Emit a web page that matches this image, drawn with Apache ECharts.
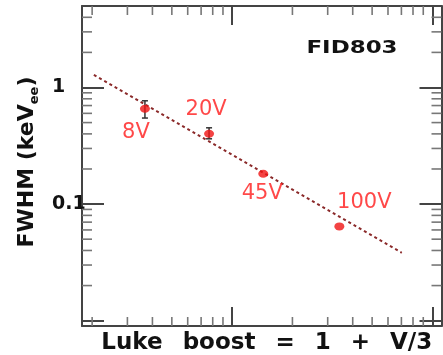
<!DOCTYPE html>
<html><head><meta charset="utf-8">
<script src="https://cdn.jsdelivr.net/npm/echarts@6/dist/echarts.min.js"></script>
<style>html,body{margin:0;padding:0;background:#fff}#c{width:443px;height:355px}</style>
</head><body><div id="c"></div>
<script>
// ---- data ----
const pointLabels = ['8V', '20V', '45V', '100V'];
const boost = [3.67, 7.67, 14.3, 34.3];
const fwhm = [0.657, 0.401, 0.182, 0.0643];
const errLow = [0.547, 0.363, null, null];
const errHigh = [0.769, 0.451, null, null];
const fitX = [2.04, 70.3];
const fitY = [1.285, 0.0382];
const xRange = [1.78, 111];
const yRange = [0.009, 5];
const xMinorTicks = [2, 3, 4, 5, 6, 7, 8, 9, 20, 30, 40, 50, 60, 70, 80, 90];
const yMinorTicks = [0.02, 0.03, 0.04, 0.05, 0.06, 0.07, 0.08, 0.09, 0.2, 0.3, 0.4, 0.5, 0.6, 0.7, 0.8, 0.9, 2, 3, 4];
const yTickLabels = ['0.1', '1'];
const annotation = 'FID803';

// ---- styles ----
const labelOffsets = [[-9, 24], [-3, -24], [-1, 20], [25, -24]];
const FONT = 'DejaVu Sans';
const axisCol = '#444';

function minorTicks(vals, dir) {
  return {
    type: 'custom', xAxisIndex: 0, yAxisIndex: 0, silent: true, z: 1, clip: false,
    data: vals.map(v => dir === 'x' ? [v, 1] : [10, v]),
    encode: {x: 0, y: 1},
    renderItem(params, api) {
      const cs = params.coordSys;
      const p = api.coord([api.value(0), api.value(1)]);
      const st = {stroke: '#777', lineWidth: 1.6};
      if (dir === 'x') {
        const x = p[0], b = cs.y + cs.height, t = cs.y, L = 9;
        return {type: 'group', children: [
          {type: 'line', shape: {x1: x, y1: b, x2: x, y2: b - L}, style: st},
          {type: 'line', shape: {x1: x, y1: t, x2: x, y2: t + L}, style: st}]};
      }
      const y = p[1], l = cs.x, r = cs.x + cs.width, L = 10;
      return {type: 'group', children: [
        {type: 'line', shape: {x1: l, y1: y, x2: l + L, y2: y}, style: st},
        {type: 'line', shape: {x1: r, y1: y, x2: r - L, y2: y}, style: st}]};
    }
  };
}

const errData = boost.map((x, i) => [x, errLow[i], errHigh[i]]).filter(d => d[1] != null);

const chart = echarts.init(document.getElementById('c'), null, {renderer: 'canvas'});
chart.setOption({
  backgroundColor: '#fff',
  animation: false,
  grid: {left: 82, right: 1.5, top: 6, bottom: 29, containLabel: false, outerBoundsMode: 'none'},
  xAxis: [{
    type: 'log', min: xRange[0], max: xRange[1], position: 'bottom',
    axisLine: {lineStyle: {color: axisCol, width: 2}},
    axisTick: {inside: true, length: 19, lineStyle: {color: axisCol, width: 2}},
    axisLabel: {show: false}, splitLine: {show: false},
    name: '{w|Luke} {w|boost} {w|=} {w|1} {w|+} {w|V/3}',
    nameLocation: 'middle', nameGap: 6,
    nameTextStyle: {fontFamily: FONT, fontWeight: 'bold', fontSize: 23, color: '#111', padding: [0, 0, 0, 10],
      rich: {w: {fontFamily: FONT, fontWeight: 'bold', fontSize: 23, color: '#111', padding: [0, 6]}}}
  }, {
    type: 'log', min: xRange[0], max: xRange[1], position: 'top',
    axisLine: {lineStyle: {color: axisCol, width: 2}},
    axisTick: {inside: true, length: 19, lineStyle: {color: axisCol, width: 2}},
    axisLabel: {show: false}, splitLine: {show: false}
  }],
  yAxis: [{
    type: 'log', min: yRange[0], max: yRange[1], position: 'left',
    axisLine: {lineStyle: {color: axisCol, width: 2}},
    axisTick: {inside: true, length: 22, lineStyle: {color: axisCol, width: 2}},
    axisLabel: {
      margin: 30, align: 'left', fontFamily: FONT, fontWeight: 'bold', fontSize: 19, color: '#111',
      formatter: v => {
        const hit = yTickLabels.find(t => Math.abs(Number(t) - v) / Number(t) < 1e-6);
        return hit || '';
      }
    },
    splitLine: {show: false},
    name: '{b|FWHM (keV}{s|ee}{b|)}',
    nameLocation: 'middle', nameGap: 40, nameRotate: 90,
    nameTextStyle: {fontFamily: FONT, fontWeight: 'bold', fontSize: 22, color: '#111', padding: [0, 0, 0, 8],
      rich: {
        b: {fontFamily: FONT, fontWeight: 'bold', fontSize: 22, color: '#111', lineHeight: 28, verticalAlign: 'bottom'},
        s: {fontFamily: FONT, fontWeight: 'bold', fontSize: 13, color: '#111', lineHeight: 28, verticalAlign: 'bottom', padding: [0, 0, -3, 0]}
      }}
  }, {
    type: 'log', min: yRange[0], max: yRange[1], position: 'right',
    axisLine: {lineStyle: {color: axisCol, width: 2}},
    axisTick: {inside: true, length: 22, lineStyle: {color: axisCol, width: 2}},
    axisLabel: {show: false}, splitLine: {show: false}
  }],
  graphic: [{
    type: 'text', x: 352, y: 49, scaleX: 1.35,
    style: {text: annotation, fontFamily: FONT, fontWeight: 'bold', fontSize: 17, fill: '#111',
      textAlign: 'center', textVerticalAlign: 'middle'}
  }],
  series: [
    minorTicks(xMinorTicks, 'x'),
    minorTicks(yMinorTicks, 'y'),
    {
      type: 'line', xAxisIndex: 0, yAxisIndex: 0, symbol: 'none', z: 2,
      data: fitX.map((x, i) => [x, fitY[i]]),
      lineStyle: {color: '#8b2a2a', width: 2, type: [3, 3]}
    },
    {
      type: 'custom', xAxisIndex: 0, yAxisIndex: 0, z: 3, silent: true,
      data: errData, encode: {x: 0, y: [1, 2]},
      renderItem(params, api) {
        const lo = api.coord([api.value(0), api.value(1)]);
        const hi = api.coord([api.value(0), api.value(2)]);
        const st = {stroke: '#333', lineWidth: 1.5};
        const w = 3;
        return {type: 'group', children: [
          {type: 'line', shape: {x1: lo[0], y1: lo[1], x2: hi[0], y2: hi[1]}, style: st},
          {type: 'line', shape: {x1: lo[0] - w, y1: lo[1], x2: lo[0] + w, y2: lo[1]}, style: st},
          {type: 'line', shape: {x1: hi[0] - w, y1: hi[1], x2: hi[0] + w, y2: hi[1]}, style: st}]};
      }
    },
    {
      type: 'scatter', xAxisIndex: 0, yAxisIndex: 0, z: 4,
      symbol: 'circle', symbolSize: [10, 8],
      itemStyle: {color: '#f01414'},
      data: boost.map((x, i) => ({
        value: [x, fwhm[i]], name: pointLabels[i],
        label: {show: true, formatter: pointLabels[i], position: 'inside', offset: labelOffsets[i],
          fontFamily: FONT, fontSize: 21, color: '#ff1a1a', align: 'center', verticalAlign: 'middle'}
      }))
    }
  ]
});
</script></body></html>
